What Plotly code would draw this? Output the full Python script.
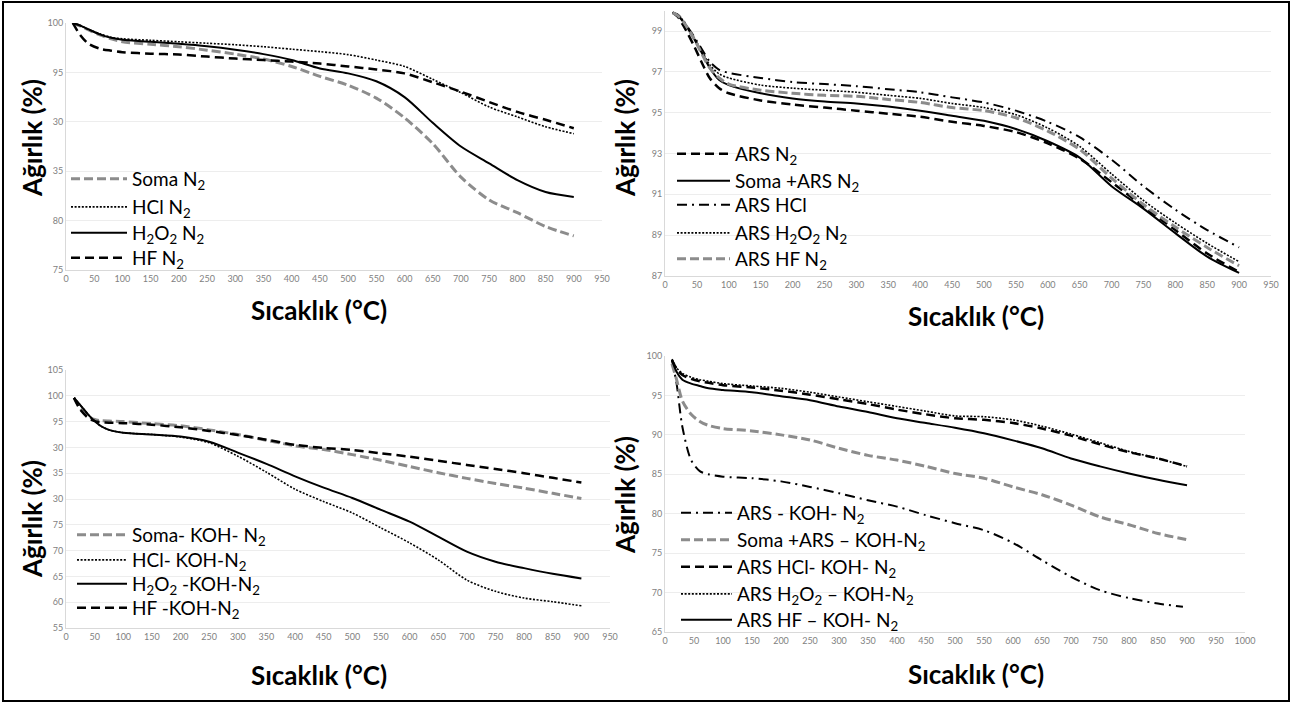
import plotly.graph_objects as go

W, H = 1291, 704

# ---------------- data ----------------
# Panel 1 (top-left)
T1 = [12, 25, 40, 60, 80, 100, 150, 200, 250, 300, 350, 400, 450, 500, 550, 600, 650, 700, 750, 800, 850, 900]
soma_n2 = [100, 99.7, 99.3, 98.8, 98.4, 98.1, 97.85, 97.6, 97.25, 96.85, 96.35, 95.6, 94.6, 93.7, 92.4, 90.4, 87.8, 84.4, 82.1, 80.8, 79.4, 78.45]
hcl_n2 = [100, 99.75, 99.35, 98.9, 98.55, 98.4, 98.25, 98.1, 97.95, 97.8, 97.6, 97.35, 97.1, 96.8, 96.25, 95.6, 94.3, 92.95, 91.5, 90.5, 89.5, 88.8]
h2o2_n2 = [100, 99.75, 99.35, 98.85, 98.5, 98.3, 98.1, 97.9, 97.65, 97.3, 96.85, 96.25, 95.4, 94.9, 94.1, 92.5, 89.9, 87.5, 85.8, 84.1, 82.9, 82.4]
hf_n2 = [100, 98.8, 97.9, 97.4, 97.2, 97.05, 96.9, 96.8, 96.6, 96.4, 96.25, 96.1, 95.9, 95.6, 95.3, 94.9, 94.0, 93.05, 92.0, 91.0, 90.2, 89.35]

# Panel 2 (top-right)
T2 = [12, 20, 30, 45, 60, 70, 85, 100, 150, 200, 250, 300, 350, 400, 450, 500, 550, 600, 650, 700, 750, 800, 850, 900]
ars_n2 = [99.9, 99.7, 99.2, 98.3, 97.3, 96.7, 96.2, 95.95, 95.6, 95.4, 95.25, 95.1, 94.95, 94.8, 94.55, 94.35, 94.05, 93.5, 92.75, 91.6, 90.4, 89.25, 88.1, 87.2]
soma_ars_n2 = [99.9, 99.75, 99.4, 98.65, 97.8, 97.2, 96.6, 96.35, 95.95, 95.7, 95.55, 95.45, 95.3, 95.1, 94.85, 94.6, 94.2, 93.6, 92.8, 91.4, 90.3, 89.1, 87.95, 87.15]
ars_hcl = [99.9, 99.8, 99.45, 98.75, 98.0, 97.5, 97.1, 96.95, 96.7, 96.5, 96.4, 96.3, 96.15, 96.0, 95.75, 95.5, 95.1, 94.55, 93.8, 92.7, 91.4, 90.25, 89.25, 88.4]
ars_h2o2_n2 = [99.9, 99.8, 99.45, 98.7, 97.9, 97.35, 96.9, 96.7, 96.35, 96.2, 96.1, 96.0, 95.85, 95.7, 95.45, 95.25, 94.9, 94.25, 93.35, 92.0, 90.7, 89.6, 88.6, 87.7]
ars_hf_n2 = [99.9, 99.75, 99.4, 98.65, 97.75, 97.2, 96.7, 96.4, 96.1, 95.95, 95.85, 95.8, 95.65, 95.5, 95.25, 95.1, 94.75, 94.1, 93.2, 91.8, 90.5, 89.4, 88.4, 87.5]

# Panel 3 (bottom-left)
T3 = [14, 25, 40, 50, 60, 75, 100, 150, 200, 250, 300, 350, 400, 450, 500, 550, 600, 650, 700, 750, 800, 850, 900]
soma_koh = [99.6, 97.6, 95.9, 95.4, 95.2, 95.1, 95.0, 94.6, 94.2, 93.4, 92.5, 91.4, 90.3, 89.6, 88.6, 87.5, 86.3, 85.1, 84.0, 83.0, 82.1, 81.1, 80.1]
hcl_koh = [99.6, 98.2, 96.2, 95.1, 94.2, 93.4, 92.85, 92.5, 92.0, 90.9, 88.3, 85.2, 81.9, 79.5, 77.3, 74.4, 71.5, 68.2, 64.3, 62.1, 60.8, 60.1, 59.3]
h2o2_koh = [99.6, 98.2, 96.2, 95.1, 94.2, 93.4, 92.85, 92.5, 92.1, 91.1, 89.0, 86.8, 84.4, 82.2, 80.2, 77.9, 75.6, 72.7, 69.8, 67.85, 66.6, 65.5, 64.6]
hf_koh = [99.6, 97.3, 95.6, 95.1, 94.9, 94.8, 94.7, 94.4, 93.9, 93.2, 92.4, 91.5, 90.5, 89.9, 89.5, 88.85, 88.2, 87.4, 86.6, 85.8, 85.0, 84.1, 83.2]

# Panel 4 (bottom-right)
T4 = [12, 20, 30, 45, 60, 75, 100, 150, 200, 250, 300, 350, 400, 450, 500, 550, 600, 650, 700, 750, 800, 850, 900]
T4_ars = [12, 20, 30, 45, 60, 75, 100, 150, 200, 250, 300, 350, 400, 450, 500, 550, 600, 650, 700, 750, 800, 850, 893]
ars_koh = [99.5, 96.5, 91.0, 86.8, 85.4, 85.0, 84.7, 84.5, 84.1, 83.4, 82.6, 81.7, 80.9, 79.8, 78.8, 77.9, 76.3, 74.1, 72.0, 70.3, 69.3, 68.6, 68.2]
soma_ars_koh = [99.0, 97.0, 94.3, 92.6, 91.7, 91.2, 90.8, 90.5, 90.0, 89.35, 88.3, 87.4, 86.8, 86.0, 85.1, 84.5, 83.4, 82.4, 81.1, 79.6, 78.6, 77.5, 76.7]
ars_hcl_koh = [99.5, 98.4, 97.6, 97.1, 96.8, 96.6, 96.3, 96.0, 95.6, 95.1, 94.5, 93.9, 93.2, 92.6, 92.1, 91.9, 91.5, 90.8, 89.9, 88.8, 87.8, 87.0, 86.0]
ars_h2o2_koh = [99.6, 98.5, 97.8, 97.3, 97.0, 96.8, 96.5, 96.2, 95.9, 95.4, 94.8, 94.2, 93.6, 93.0, 92.4, 92.3, 91.9, 91.1, 90.1, 89.0, 87.9, 87.0, 86.0]
ars_hf_koh = [99.5, 98.0, 97.0, 96.5, 96.2, 95.9, 95.7, 95.4, 94.9, 94.4, 93.6, 92.9, 92.1, 91.5, 90.9, 90.2, 89.3, 88.3, 87.0, 86.0, 85.1, 84.3, 83.6]

# tick labels as printed
y1_vals = [75, 80, 85, 90, 95, 100]
y1_text = ["75", "80", "35", "30", "95", "100"]
y2_vals = [87, 89, 91, 93, 95, 97, 99]
y3_vals = [55, 60, 65, 70, 75, 80, 85, 90, 95, 100, 105]
y3_text = ["55", "60", "65", "70", "75", "30", "35", "30", "95", "100", "105"]
y4_vals = [65, 70, 75, 80, 85, 90, 95, 100]

x_title = "Sıcaklık (°C)"
y_title = "Ağırlık (%)"

# ---------------- styles ----------------
GREY = "#8c8c8c"
S_SOLID = dict(color="black", width=2, dash="solid")
S_DASH = dict(color="black", width=2.5, dash="9px,5px")
S_DOT = dict(color="black", width=1.6, dash="2px,1.6px")
S_GDASH = dict(color=GREY, width=3, dash="9px,4px")
S_DASHDOT = dict(color="black", width=2, dash="10px,5px,2px,5px")

FONT = "Lato, 'Open Sans', sans-serif"


def xd(a, b):
    return [a / W, b / W]


def yd(top, bottom):
    return [1 - bottom / H, 1 - top / H]


fig = go.Figure()

# per panel: series + legend placement (legend box left x, item width, row centre ys)
panels = [
    (1, T1, [("Soma N<sub>2</sub>", soma_n2, S_GDASH),
             ("HCl N<sub>2</sub>", hcl_n2, S_DOT),
             ("H<sub>2</sub>O<sub>2</sub> N<sub>2</sub>", h2o2_n2, S_SOLID),
             ("HF N<sub>2</sub>", hf_n2, S_DASH)],
     66, 56, [179, 207, 233, 258]),
    (2, T2, [("ARS N<sub>2</sub>", ars_n2, S_DASH),
             ("Soma +ARS N<sub>2</sub>", soma_ars_n2, S_SOLID),
             ("ARS HCl", ars_hcl, S_DASHDOT),
             ("ARS H<sub>2</sub>O<sub>2</sub> N<sub>2</sub>", ars_h2o2_n2, S_DOT),
             ("ARS HF N<sub>2</sub>", ars_hf_n2, S_GDASH)],
     672, 53, [154, 181, 205, 233, 259]),
    (3, T3, [("Soma- KOH- N<sub>2</sub>", soma_koh, S_GDASH),
             ("HCl- KOH-N<sub>2</sub>", hcl_koh, S_DOT),
             ("H<sub>2</sub>O<sub>2</sub> -KOH-N<sub>2</sub>", h2o2_koh, S_SOLID),
             ("HF -KOH-N<sub>2</sub>", hf_koh, S_DASH)],
     72, 50, [535, 560, 584, 608]),
    (4, T4, [("ARS - KOH- N<sub>2</sub>", ars_koh, S_DASHDOT),
             ("Soma +ARS – KOH-N<sub>2</sub>", soma_ars_koh, S_GDASH),
             ("ARS HCl- KOH- N<sub>2</sub>", ars_hcl_koh, S_DASH),
             ("ARS H<sub>2</sub>O<sub>2</sub> – KOH-N<sub>2</sub>", ars_h2o2_koh, S_DOT),
             ("ARS HF – KOH- N<sub>2</sub>", ars_hf_koh, S_SOLID)],
     676, 51, [513, 540, 567, 594, 620]),
]

leg_font = dict(family=FONT, size=19, color="black")
legends = {}
leg_n = 0
for idx, T, series, lx, iw, rows in panels:
    sfx = "" if idx == 1 else str(idx)
    for k, (name, vals, style) in enumerate(series):
        leg_n += 1
        lname = "legend" if leg_n == 1 else f"legend{leg_n}"
        legends[lname] = dict(x=lx / W, y=1 - rows[k] / H, xanchor="left", yanchor="middle",
                              bgcolor="rgba(0,0,0,0)", borderwidth=0, font=leg_font,
                              itemwidth=iw, itemclick=False, itemdoubleclick=False)
        xs = T4_ars if (idx == 4 and k == 0) else T
        fig.add_trace(go.Scatter(
            x=xs, y=vals, mode="lines", name=name,
            line=dict(shape="spline", smoothing=0.8, **style),
            xaxis="x" + sfx, yaxis="y" + sfx, legend=lname,
            hoverinfo="skip",
        ))

axis_common = dict(showline=True, linecolor="#d9d9d9", linewidth=1, ticks="", automargin=False,
                   tickfont=dict(family=FONT, size=9, color="#7f7f7f"), zeroline=False)

layout = dict(
    template="none",
    width=W, height=H, autosize=False, margin=dict(l=0, r=0, t=0, b=0, pad=0),
    paper_bgcolor="white", plot_bgcolor="white", showlegend=True,
    font=dict(family=FONT, color="black"),
    xaxis=dict(domain=xd(66, 602), range=[0, 950], dtick=50, anchor="y", showgrid=False, **axis_common),
    yaxis=dict(domain=yd(23, 270), range=[75, 100], tickvals=y1_vals, ticktext=y1_text, anchor="x",
               showgrid=True, gridcolor="#ededed", **axis_common),
    xaxis2=dict(domain=xd(665, 1271), range=[0, 950], dtick=50, anchor="y2", showgrid=False, **axis_common),
    yaxis2=dict(domain=yd(10.6, 276), range=[87, 100], tickvals=y2_vals, anchor="x2",
                showgrid=True, gridcolor="#ededed", **axis_common),
    xaxis3=dict(domain=xd(66, 610), range=[0, 950], dtick=50, anchor="y3", showgrid=False, **axis_common),
    yaxis3=dict(domain=yd(370, 628), range=[55, 105], tickvals=y3_vals, ticktext=y3_text, anchor="x3",
                showgrid=True, gridcolor="#ededed", **axis_common),
    xaxis4=dict(domain=xd(665, 1245), range=[0, 1000], dtick=50, anchor="y4", showgrid=False, **axis_common),
    yaxis4=dict(domain=yd(356, 632), range=[65, 100], tickvals=y4_vals, anchor="x4",
                showgrid=True, gridcolor="#ededed", **axis_common),
)
layout.update(legends)
fig.update_layout(**layout)

title_font = dict(family=FONT, size=26, color="black")
ann = []
for (cx, cy) in [(319, 310), (976, 316), (319, 675), (976, 674)]:
    ann.append(dict(text="<b>" + x_title + "</b>", x=cx / W, y=1 - cy / H, xref="paper", yref="paper",
                    showarrow=False, font=title_font, xanchor="center", yanchor="middle"))
for (cx, cy) in [(32, 138), (625, 138), (32, 519), (625, 495)]:
    ann.append(dict(text="<b>" + y_title + "</b>", x=cx / W, y=1 - cy / H, xref="paper", yref="paper",
                    showarrow=False, font=title_font, textangle=-90, xanchor="center", yanchor="middle"))
fig.update_layout(annotations=ann)

fig.add_shape(type="rect", xref="paper", yref="paper", x0=3 / W, x1=1289 / W, y0=1 - 701 / H, y1=1 - 2 / H,
              line=dict(color="black", width=2), fillcolor="rgba(0,0,0,0)", layer="above")

post = (
    "document.documentElement.style.margin='0';document.documentElement.style.overflow='hidden';"
    "document.body.style.margin='0';document.body.style.padding='0';document.body.style.overflow='hidden';"
)
fig.write_html("out.html", config={"displayModeBar": False, "responsive": False}, post_script=post)
